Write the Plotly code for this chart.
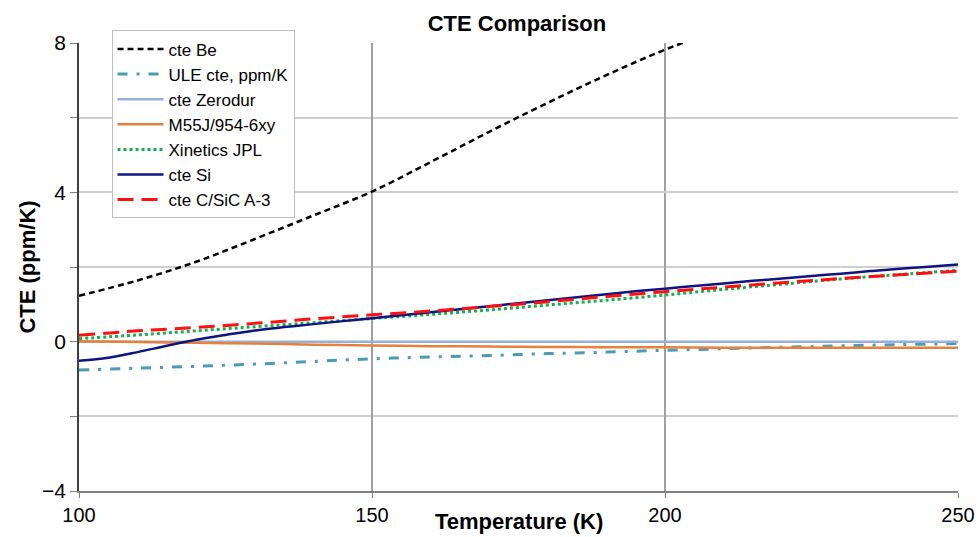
import plotly.graph_objects as go

# Temperature grids (K)
temps = [100, 110, 120, 130, 140, 150, 160, 170, 180, 190, 200, 210, 220, 230, 240, 250]
temps_be = [100, 110, 120, 130, 140, 150, 160, 170, 180, 190, 200, 210, 220]
temps_si = [100, 105, 110, 115, 120, 125, 130, 135, 140, 145, 150, 155, 160, 165, 170, 175,
            180, 185, 190, 195, 200, 205, 210, 215, 220, 225, 230, 235, 240, 245, 250]

# CTE values (ppm/K)
cte_be = [1.23, 1.64, 2.14, 2.75, 3.38, 4.02, 4.81, 5.62, 6.40, 7.14, 7.82, 8.4, 8.9]
ule = [-0.76, -0.71, -0.66, -0.60, -0.53, -0.46, -0.41, -0.37, -0.32, -0.28, -0.23, -0.19, -0.15, -0.11, -0.08, -0.05]
zerodur = [0.0, 0.0, 0.0, 0.0, 0.0, 0.0, 0.0, 0.0, 0.0, 0.0, 0.0, 0.0, 0.0, 0.0, 0.0, 0.0]
m55j = [0.01, -0.01, -0.03, -0.05, -0.08, -0.10, -0.12, -0.13, -0.14, -0.15, -0.15, -0.16, -0.16, -0.16, -0.16, -0.16]
xinetics = [0.08, 0.18, 0.29, 0.40, 0.51, 0.62, 0.73, 0.85, 0.98, 1.11, 1.25, 1.40, 1.54, 1.68, 1.80, 1.91]
cte_si = [-0.51, -0.43, -0.28, -0.11, 0.05, 0.18, 0.30, 0.39, 0.47, 0.55, 0.63, 0.71, 0.79, 0.87,
          0.95, 1.03, 1.11, 1.19, 1.27, 1.35, 1.42, 1.49, 1.56, 1.63, 1.69, 1.76, 1.82, 1.89,
          1.95, 2.01, 2.07]
csic = [0.17, 0.29, 0.38, 0.49, 0.61, 0.72, 0.82, 0.94, 1.07, 1.21, 1.34, 1.46, 1.58, 1.69, 1.79, 1.89]

x_ticks = [100, 150, 200, 250]
y_ticks = [-4, 0, 4, 8]

FONT = "Liberation Sans, Arial, sans-serif"

fig = go.Figure()
fig.add_trace(go.Scatter(x=temps_be, y=cte_be, name="cte Be", mode="lines",
                         line=dict(color="#000000", width=2.5, dash="6px,4px", shape="spline")))
fig.add_trace(go.Scatter(x=temps, y=ule, name="ULE cte, ppm/K", mode="lines",
                         line=dict(color="#4A9BB5", width=3, dash="10px,9px,3px,9px", shape="spline")))
fig.add_trace(go.Scatter(x=temps, y=zerodur, name="cte Zerodur", mode="lines",
                         line=dict(color="#95B0DA", width=2.5, shape="spline")))
fig.add_trace(go.Scatter(x=temps, y=m55j, name="M55J/954-6xy", mode="lines",
                         line=dict(color="#E5813A", width=2.5, shape="spline")))
fig.add_trace(go.Scatter(x=temps, y=xinetics, name="Xinetics JPL", mode="lines",
                         line=dict(color="#14B050", width=3, dash="dot", shape="spline")))
fig.add_trace(go.Scatter(x=temps_si, y=cte_si, name="cte Si", mode="lines",
                         line=dict(color="#0E1480", width=2.5, shape="spline")))
fig.add_trace(go.Scatter(x=temps, y=csic, name="cte C/SiC A-3", mode="lines",
                         line=dict(color="#FF1010", width=3, dash="16px,8px", shape="spline")))

fig.update_layout(
    width=979, height=537,
    margin=dict(l=79, r=21, t=43, b=46, autoexpand=False),
    paper_bgcolor="white", plot_bgcolor="white",
    font=dict(family=FONT, color="#000000"),
    title=dict(text="<b>CTE Comparison</b>", x=0.528, xanchor="center",
               y=0.956, yanchor="middle", font=dict(size=22, family=FONT)),
    legend=dict(x=0.037, y=1.028, xanchor="left", yanchor="top",
                bgcolor="white", bordercolor="#BFBFBF", borderwidth=1,
                font=dict(size=17, family=FONT), tracegroupgap=0, itemwidth=46),
    showlegend=True,
)

fig.update_xaxes(
    range=[100, 250], tickvals=x_ticks, ticktext=[str(v) for v in x_ticks],
    showgrid=True, gridcolor="#A0A0A0", gridwidth=1.5,
    showline=True, linecolor="#808080", linewidth=1.5,
    ticks="outside", ticklen=5, tickcolor="#808080",
    tickfont=dict(size=20, family=FONT), zeroline=False, automargin=False,
)
fig.update_yaxes(
    range=[-4, 8], tickvals=y_ticks,
    showgrid=True, gridcolor="#CFCFCF", gridwidth=1.5,
    showline=True, linecolor="#404040", linewidth=1.5,
    ticks="outside", ticklen=7, tickcolor="#808080",
    tickfont=dict(size=21, family=FONT), zeroline=False, automargin=False,
    minor=dict(dtick=2, showgrid=True, gridcolor="#CFCFCF", gridwidth=1.5,
               ticks="outside", ticklen=7, tickcolor="#808080"),
    title=dict(text="<b>CTE (ppm/K)</b>", font=dict(size=22, family=FONT), standoff=0),
)

fig.add_annotation(text="<b>Temperature (K)</b>", xref="paper", yref="paper",
                   x=0.5, y=-0.069, xanchor="center", yanchor="middle",
                   showarrow=False, font=dict(size=22, family=FONT))

fig.write_html("out.html", config={"displayModeBar": False},
               post_script="document.body.style.margin='0';")
